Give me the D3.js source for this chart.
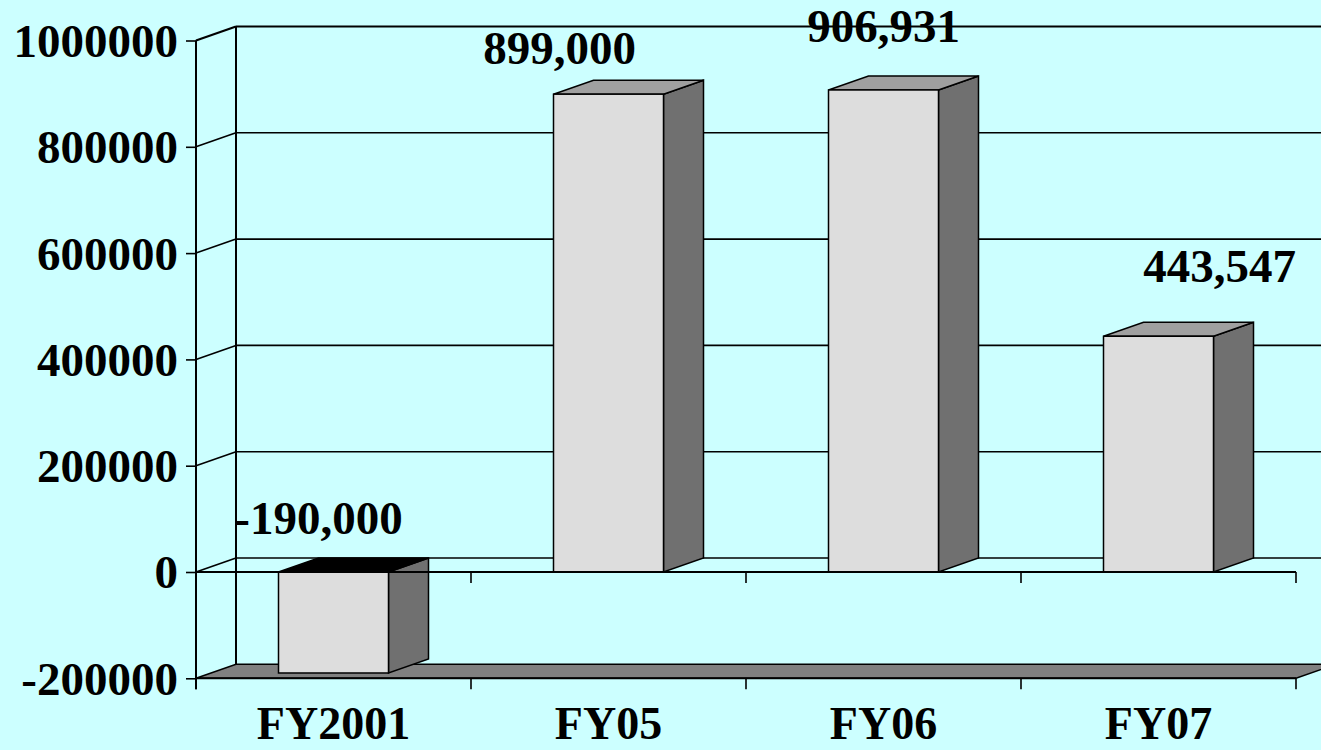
<!DOCTYPE html>
<html lang="en">
	<head>
		<meta charset="utf-8">
		<script type="text/javascript" src="https://d3js.org/d3.v7.min.js"></script>
		<style type="text/css">
			html, body { margin: 0; padding: 0; background: #ccffff; }
			svg { display: block; }
			text { font-family: "Liberation Serif", "Times New Roman", serif; font-weight: bold; fill: #000; }
		</style>
	</head>
	<body>
		<script type="text/javascript">
			// data
			var categories = ["FY2001", "FY05", "FY06", "FY07"];
			var values = [-190000, 899000, 906931, 443547];
			var valueLabels = ["-190,000", "899,000", "906,931", "443,547"];
			var yTicks = [-200000, 0, 200000, 400000, 600000, 800000, 1000000];

			// layout
			var w = 1321, h = 750;
			var depthX = 40, depthY = -14;
			// hand placed data labels, [dx, dy] from bar centre / back top edge
			var labelNudge = [[-15, -24], [-49, -16], [0, -34], [61, -40]];

			var svg = d3.select("body").append("svg")
				.attr("width", w)
				.attr("height", h);

			svg.append("rect").attr("width", w).attr("height", h).attr("fill", "#ccffff");

			var x = d3.scaleBand().domain(categories).range([196, 1296]).padding(0);
			var y = d3.scaleLinear().domain([-200000, 1000000]).range([678.3, 40.5]);

			var x0 = 196, x1 = 1296;
			var yMin = y(-200000);

			// floor
			svg.append("path")
				.attr("d", "M" + x0 + "," + yMin + "L" + (x0 + depthX) + "," + (yMin + depthY) +
					"L" + (x1 + depthX) + "," + (yMin + depthY) + "L" + x1 + "," + yMin + "Z")
				.attr("fill", "#808080")
				.attr("stroke", "#000")
				.attr("stroke-width", 1.5);

			// back wall gridlines + side wall diagonals
			var grid = svg.append("g");
			yTicks.forEach(function(t) {
				if (t === -200000) return;
				var sw = t === 1000000 ? 2.2 : 1.6;
				grid.append("line")
					.attr("x1", x0 + depthX).attr("x2", x1 + depthX)
					.attr("y1", y(t) + depthY).attr("y2", y(t) + depthY)
					.attr("stroke", "#000").attr("stroke-width", sw);
				grid.append("line")
					.attr("x1", x0).attr("x2", x0 + depthX)
					.attr("y1", y(t)).attr("y2", y(t) + depthY)
					.attr("stroke", "#000").attr("stroke-width", sw);
			});
			// back vertical edge
			grid.append("line")
				.attr("x1", x0 + depthX).attr("x2", x0 + depthX)
				.attr("y1", y(1000000) + depthY).attr("y2", yMin + depthY)
				.attr("stroke", "#000").attr("stroke-width", 2);

			// bars
			var bars = svg.append("g");
			categories.forEach(function(c, i) {
				var v = values[i];
				var bw = x.bandwidth() * 0.4;
				var bx = x(c) + (x.bandwidth() - bw) / 2;
				var yTop = y(Math.max(v, 0)), yBot = y(Math.min(v, 0));
				// side
				bars.append("path")
					.attr("d", "M" + (bx + bw) + "," + yTop + "L" + (bx + bw + depthX) + "," + (yTop + depthY) +
						"L" + (bx + bw + depthX) + "," + (yBot + depthY) + "L" + (bx + bw) + "," + yBot + "Z")
					.attr("fill", "#707070").attr("stroke", "#000").attr("stroke-width", 1.5);
				// top
				bars.append("path")
					.attr("d", "M" + bx + "," + yTop + "L" + (bx + depthX) + "," + (yTop + depthY) +
						"L" + (bx + bw + depthX) + "," + (yTop + depthY) + "L" + (bx + bw) + "," + yTop + "Z")
					.attr("fill", v < 0 ? "#000" : "#a0a0a0").attr("stroke", "#000").attr("stroke-width", 1.5);
				// front
				bars.append("rect")
					.attr("x", bx).attr("y", yTop)
					.attr("width", bw).attr("height", yBot - yTop)
					.attr("fill", "#dddddd").attr("stroke", "#000").attr("stroke-width", 1.5);
				// value label
				svg.append("text")
					.attr("x", bx + bw / 2 + labelNudge[i][0])
					.attr("y", yTop + depthY + labelNudge[i][1])
					.attr("text-anchor", "middle")
					.attr("font-size", 47)
					.text(valueLabels[i]);
			});

			// front zero line and bottom edge, with category ticks
			var front = svg.append("g");
			[0, -200000].forEach(function(t) {
				front.append("line")
					.attr("x1", x0).attr("x2", x1)
					.attr("y1", y(t)).attr("y2", y(t))
					.attr("stroke", "#000").attr("stroke-width", 2);
				categories.concat([null]).forEach(function(c, i) {
					var tx = c === null ? x1 : x(c);
					if (i === 0 && t === 0) return;
					front.append("line")
						.attr("x1", tx).attr("x2", tx)
						.attr("y1", y(t)).attr("y2", y(t) + 11)
						.attr("stroke", "#000").attr("stroke-width", 1.6);
				});
			});

			// y axis (plain hyphen for negatives, like the original)
			var yAxis = d3.axisLeft(y).tickValues(yTicks).tickSize(10).tickPadding(8)
				.tickFormat(function(d) { return String(d); });
			var ya = svg.append("g")
				.attr("transform", "translate(" + x0 + ",0)")
				.call(yAxis);
			ya.select(".domain").remove();
			ya.append("line").attr("x1", 0).attr("x2", 0)
				.attr("y1", y(1000000)).attr("y2", yMin + 11)
				.attr("stroke", "#000").attr("stroke-width", 2);
			ya.selectAll(".tick line").attr("stroke", "#000").attr("stroke-width", 1.6);
			ya.selectAll(".tick text")
				.attr("font-size", 47)
				.attr("font-family", null)
				.attr("dy", "0.34em")
				.attr("fill", "#000");
			ya.attr("font-family", null).attr("font-size", null);

			// category labels
			svg.append("g").selectAll("text")
				.data(categories)
				.enter()
				.append("text")
				.attr("x", function(d) { return x(d) + x.bandwidth() / 2; })
				.attr("y", 739)
				.attr("text-anchor", "middle")
				.attr("font-size", 46)
				.text(function(d) { return d; });
		</script>
	</body>
</html>
